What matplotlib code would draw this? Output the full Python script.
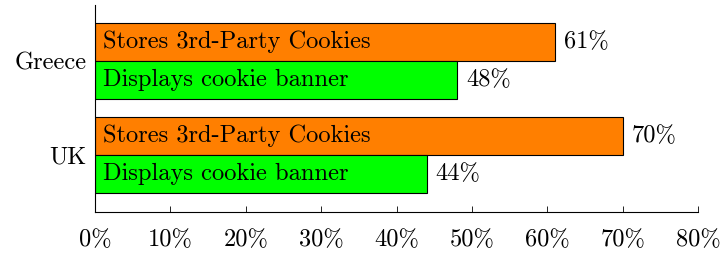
import matplotlib
matplotlib.use('Agg')
import matplotlib.pyplot as plt

plt.rcParams['font.family'] = ['cmr10', 'DejaVu Serif']
plt.rcParams['mathtext.fontset'] = 'cm'
plt.rcParams['axes.formatter.use_mathtext'] = True

countries = ['UK', 'Greece']
cookies = [70, 61]   # Stores 3rd-Party Cookies
banner = [44, 48]    # Displays cookie banner
series_names = ['Stores 3rd-Party Cookies', 'Displays cookie banner']
xticks = [0, 10, 20, 30, 40, 50, 60, 70, 80]

fig = plt.figure(figsize=(7.22, 2.57), dpi=100)
ax = fig.add_axes([95 / 722, 45 / 257, 603 / 722, 207 / 257])

h = 0.40
pos = list(range(len(countries)))
ax.barh([p + h / 2 for p in pos], cookies, height=h, color='#ff7f00', edgecolor='black', linewidth=0.8)
ax.barh([p - h / 2 for p in pos], banner, height=h, color='#00ff00', edgecolor='black', linewidth=0.8)

fs = 17.6
for p, c, b in zip(pos, cookies, banner):
    ax.text(1.0, p + h / 2, series_names[0], va='center', ha='left', fontsize=fs)
    ax.text(1.0, p - h / 2, series_names[1], va='center', ha='left', fontsize=fs)
    ax.text(c + 1.2, p + h / 2, '%d%%' % c, va='center', ha='left', fontsize=fs)
    ax.text(b + 1.2, p - h / 2, '%d%%' % b, va='center', ha='left', fontsize=fs)

ax.set_xlim(0, 80)
ax.set_ylim(-0.606, 1.596)
ax.set_xticks(xticks)
ax.set_xticklabels(['%d%%' % t for t in xticks], fontsize=fs)
ax.set_yticks(pos)
ax.set_yticklabels(countries, fontsize=fs)
ax.tick_params(axis='x', direction='in', length=4, width=0.6, pad=12)
ax.tick_params(axis='y', length=0, pad=6)
ax.spines['top'].set_visible(False)
ax.spines['right'].set_visible(False)
ax.spines['left'].set_linewidth(0.8)
ax.spines['bottom'].set_linewidth(0.8)

fig.savefig('out.png', dpi=100)
